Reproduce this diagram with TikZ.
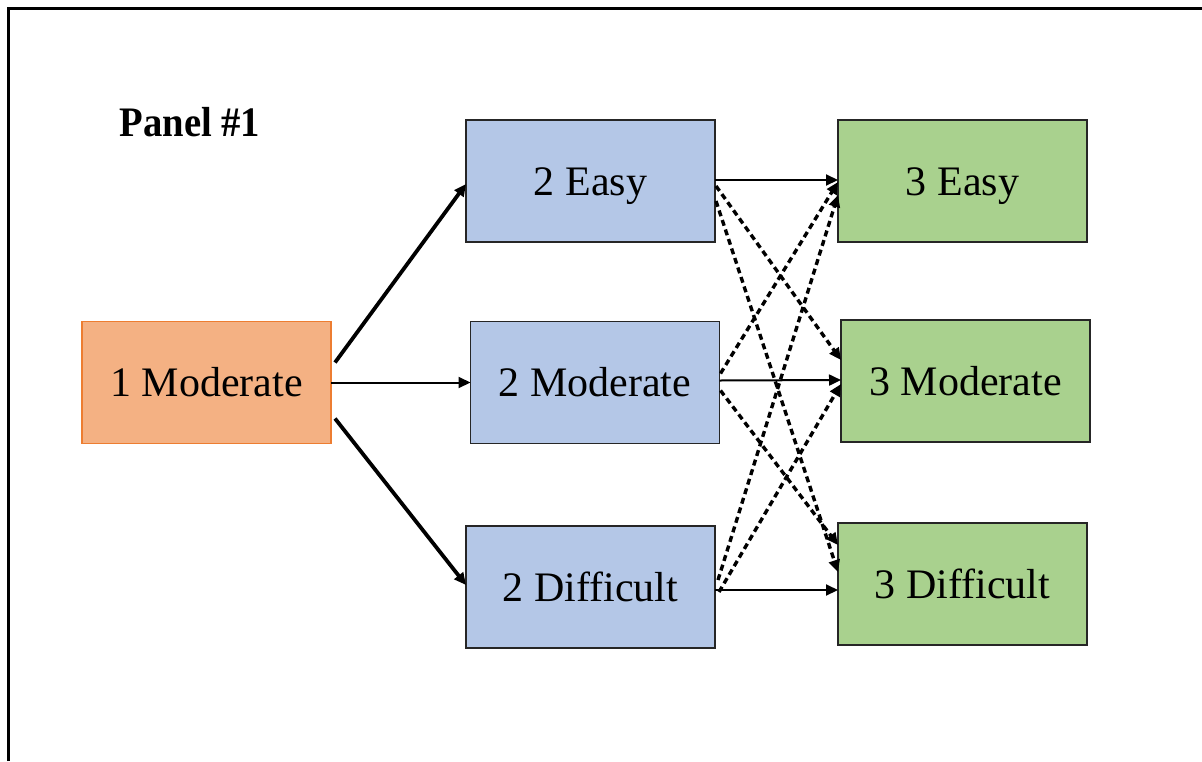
\documentclass[tikz,border=0pt]{standalone}
\usepackage{fontspec}
\setmainfont{Liberation Serif}
\usetikzlibrary{arrows.meta,calc}
\definecolor{orangefill}{HTML}{F4B183}
\definecolor{orangeedge}{HTML}{ED7D31}
\definecolor{bluefill}{HTML}{B4C7E7}
\definecolor{greenfill}{HTML}{A9D18E}
\definecolor{boxedge}{HTML}{262626}
\tikzset{
  stagebox/.style={draw=boxedge, line width=1.8pt, minimum width=249pt, minimum height=122pt,
    inner sep=0pt, outer sep=0pt, text height=28pt, text depth=0pt,
    font=\fontsize{42}{46}\selectfont},
  firstbox/.style={stagebox, fill=orangefill, draw=orangeedge},
  secondbox/.style={stagebox, fill=bluefill},
  thirdbox/.style={stagebox, fill=greenfill},
  tip/.style={-{Triangle[length=12pt,width=11pt]}},
  heavy/.style={tip, line width=3.8pt},
  light/.style={tip, line width=2pt},
  dashlink/.style={tip, line width=3.4pt, dash pattern=on 6pt off 4pt}
}
\begin{document}
\begin{tikzpicture}[x=1pt,y=-1pt]
\useasboundingbox (0,0) rectangle (1202,761);
\fill[white] (0,0) rectangle (1202,761);
% panel frame (top and left edges)
\coordinate (frameBL) at (8,761);
\coordinate (frameTL) at (8,8);
\coordinate (frameTR) at (1202,8);
\draw[line width=3pt] (frameBL) -- (frameTL) -- (frameTR);

\node[font=\bfseries\fontsize{42}{46}\selectfont, xscale=0.92] (title) at (190,122) {Panel \#1};

% stage 1
\node[firstbox] (m1) at (206.5,382.5) {1 Moderate};
% stage 2
\node[secondbox] (e2) at (590.5,181) {2 Easy};
\node[secondbox] (m2) at (595,382.5) {2 Moderate};
\node[secondbox] (d2) at (590.5,587) {2 Difficult};
% stage 3
\node[thirdbox] (e3) at (962.5,181) {3 Easy};
\node[thirdbox] (m3) at (965.5,381) {3 Moderate};
\node[thirdbox] (d3) at (962.5,584) {3 Difficult};

% stage 1 -> stage 2
\draw[heavy] ([shift={(4,-20)}]m1.east) -- ([shift={(0,3)}]e2.west);
\draw[light] (m1.east) -- (m2.west);
\draw[heavy] ([shift={(4,36)}]m1.east) -- ([shift={(0,-2)}]d2.west);

% stage 2 -> stage 3, same level
\draw[light] ([shift={(0,-1)}]e2.east) -- ([shift={(0,-1)}]e3.west);
\draw[light] ([shift={(0,-2)}]m2.east) -- ([shift={(0,-1)}]m3.west);
\draw[light] ([shift={(0,3)}]d2.east) -- ([shift={(0,6)}]d3.west);

% stage 2 -> stage 3, changed level
\draw[dashlink] ([shift={(1,5)}]e2.east) -- ([shift={(0,-21)}]m3.west);
\draw[dashlink] ([shift={(1,20)}]e2.east) -- ([shift={(0,-12)}]d3.west);
\draw[dashlink] ([shift={(1,-9)}]m2.east) -- ([shift={(0,1)}]e3.west);
\draw[dashlink] ([shift={(1,8)}]m2.east) -- ([shift={(0,-39)}]d3.west);
\draw[dashlink] ([shift={(3,-7)}]d2.east) -- ([shift={(0,14)}]e3.west);
\draw[dashlink] ([shift={(4,5)}]d2.east) -- ([shift={(0,3)}]m3.west);
\end{tikzpicture}
\end{document}
